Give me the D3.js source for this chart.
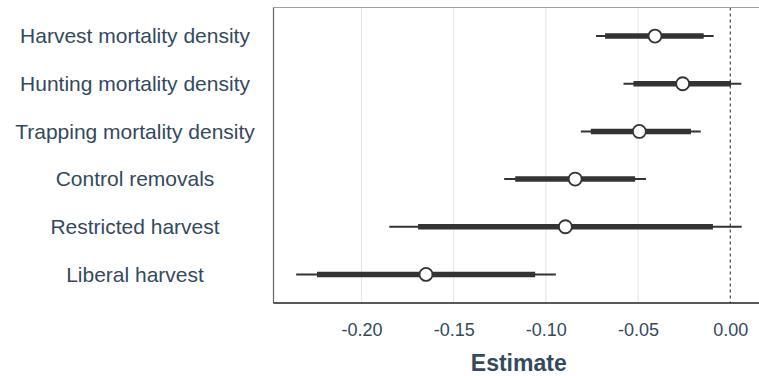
<!DOCTYPE html>
<html>
<head>
<meta charset="utf-8">
<script src="https://cdn.jsdelivr.net/npm/d3@7"></script>
<style>
  body { margin: 0; background: #fff; overflow: hidden; }
  svg { display: block; }
</style>
</head>
<body>
<div id="chart"></div>
<script>
// terms, top to bottom
var terms = ["Harvest mortality density", "Hunting mortality density", "Trapping mortality density",
             "Control removals", "Restricted harvest", "Liberal harvest"];
var estimate = [-0.0408, -0.0258, -0.0493, -0.0841, -0.0894, -0.1650];
// inner (thick) interval
var innerLo = [-0.0679, -0.0525, -0.0756, -0.1166, -0.1693, -0.2241];
var innerHi = [-0.0144, 0.0004, -0.0213, -0.0516, -0.0094, -0.1058];
// outer (thin) interval
var outerLo = [-0.0728, -0.0579, -0.0810, -0.1226, -0.1849, -0.2354];
var outerHi = [-0.0090, 0.0060, -0.0160, -0.0457, 0.0062, -0.0946];
var xTicks = [-0.20, -0.15, -0.10, -0.05, 0.00];

(function () {
    var width = 759, height = 376;
    var pLeft = 273.5, pRight = 764, pTop = 7.5, pBottom = 303;
    var textCol = "#34495e", ink = "#333333";

    var data = terms.map(function (t, i) {
        return { term: t, est: estimate[i], ilo: innerLo[i], ihi: innerHi[i], olo: outerLo[i], ohi: outerHi[i] };
    });

    var svg = d3.select("#chart").append("svg")
        .attr("width", width)
        .attr("height", height)
        .style("font-family", "Liberation Sans, Arial, sans-serif");

    var x = d3.scaleLinear().domain([-0.2477, 0.0183]).range([pLeft, pRight]);
    var y = d3.scalePoint().domain(terms).range([pTop, pBottom]).padding(0.6);

    // grid
    svg.append("g").selectAll("line")
        .data(xTicks.filter(function (d) { return d !== 0; }))
        .enter().append("line")
        .attr("x1", function (d) { return x(d); })
        .attr("x2", function (d) { return x(d); })
        .attr("y1", pTop)
        .attr("y2", pBottom)
        .attr("stroke", "#e6e6e6")
        .attr("stroke-width", 1);

    // zero reference
    svg.append("line")
        .attr("x1", x(0)).attr("x2", x(0))
        .attr("y1", pTop).attr("y2", pBottom)
        .attr("stroke", "#222")
        .attr("stroke-width", 1)
        .attr("stroke-dasharray", "3,3");

    // panel border
    svg.append("line")
        .attr("x1", pLeft).attr("x2", pRight).attr("y1", pTop).attr("y2", pTop)
        .attr("stroke", "#a0a0a0").attr("stroke-width", 1);
    svg.append("line")
        .attr("x1", pLeft).attr("x2", pLeft).attr("y1", pTop).attr("y2", pBottom)
        .attr("stroke", "#666").attr("stroke-width", 1.2);

    var rows = svg.append("g").selectAll("g")
        .data(data)
        .enter().append("g")
        .attr("transform", function (d) { return "translate(0," + y(d.term) + ")"; });

    rows.append("line")
        .attr("x1", function (d) { return x(d.olo); })
        .attr("x2", function (d) { return x(d.ohi); })
        .attr("stroke", ink)
        .attr("stroke-width", 2);

    rows.append("line")
        .attr("x1", function (d) { return x(d.ilo); })
        .attr("x2", function (d) { return x(d.ihi); })
        .attr("stroke", ink)
        .attr("stroke-width", 5.5);

    rows.append("circle")
        .attr("cx", function (d) { return x(d.est); })
        .attr("r", 6.5)
        .attr("fill", "#fff")
        .attr("stroke", ink)
        .attr("stroke-width", 1.8);

    // bottom axis
    var xAxis = svg.append("g")
        .attr("transform", "translate(0," + pBottom + ")")
        .call(d3.axisBottom(x).tickValues(xTicks).tickSize(0).tickPadding(20));
    xAxis.select(".domain").remove();
    xAxis.append("line")
        .attr("x1", pLeft).attr("x2", pRight)
        .attr("stroke", "#222").attr("stroke-width", 1.5);
    xAxis.selectAll("text")
        .attr("fill", textCol)
        .style("font-size", "18px")
        .text(function (d) { return d3.format(".2f")(d).replace("\u2212", "-"); });

    svg.append("text")
        .attr("x", (pLeft + pRight) / 2)
        .attr("y", 371)
        .attr("text-anchor", "middle")
        .attr("fill", textCol)
        .style("font-size", "23px")
        .style("font-weight", "bold")
        .text("Estimate");

    // term labels
    svg.append("g").selectAll("text")
        .data(terms)
        .enter().append("text")
        .attr("x", 135)
        .attr("y", function (d) { return y(d); })
        .attr("dy", "0.35em")
        .attr("text-anchor", "middle")
        .attr("fill", textCol)
        .style("font-size", "21px")
        .text(function (d) { return d; });
})();
</script>
</body>
</html>
